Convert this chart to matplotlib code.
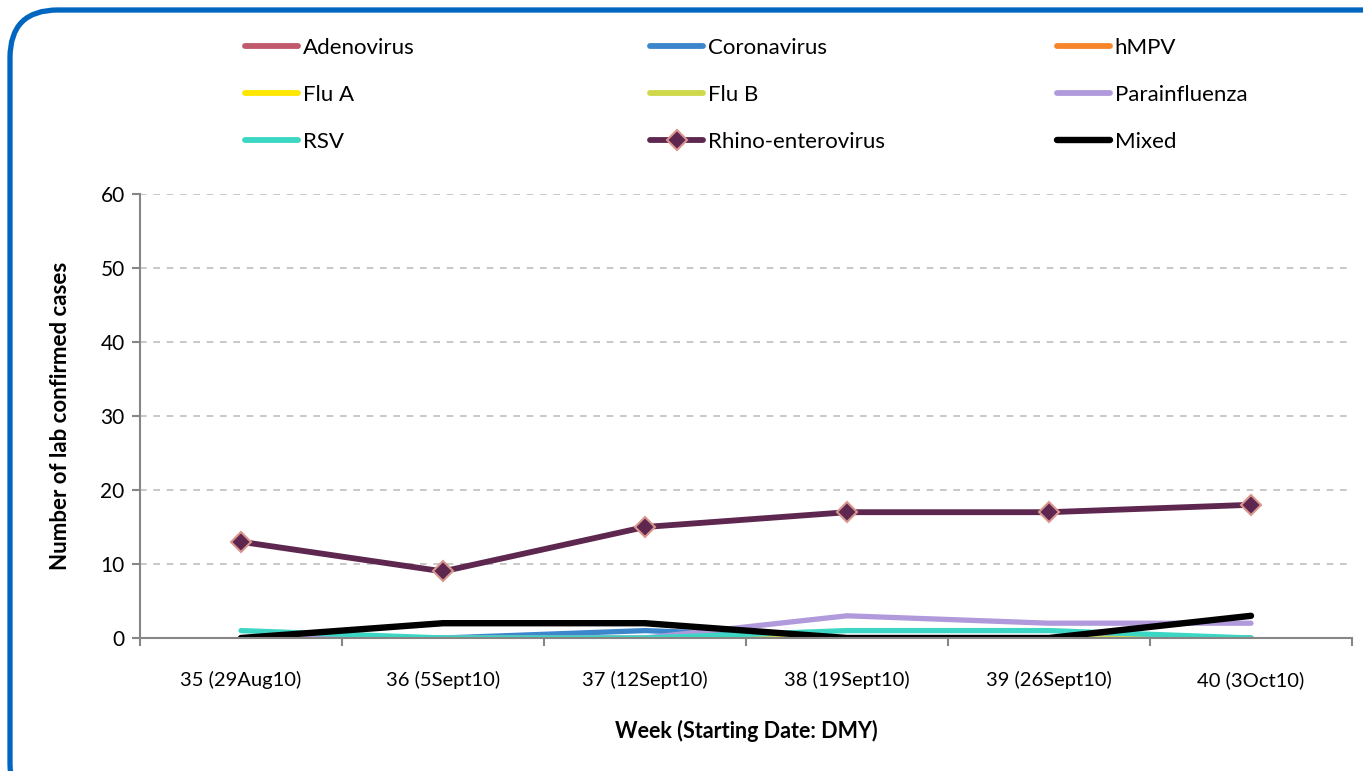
import numpy as np
import matplotlib
matplotlib.use("Agg")
import matplotlib.pyplot as plt
from matplotlib.patches import FancyBboxPatch
from matplotlib.lines import Line2D

plt.rcParams["font.family"] = ["Lato", "DejaVu Sans"]

weeks = ["35 (29Aug10)", "36 (5Sept10)", "37 (12Sept10)",
         "38 (19Sept10)", "39 (26Sept10)", "40 (3Oct10)"]

adenovirus = [0, 0, 0, 0, 0, 0]
coronavirus = [0, 0, 1, 0, 0, 0]
hmpv = [0, 0, 0, 0, 0, 0]
flu_a = [0, 0, 0, 0, 0, 0]
flu_b = [0, 0, 0, 0, 0, 0]
parainfluenza = [0, 0, 0, 3, 2, 2]
rsv = [1, 0, 0, 1, 1, 0]
rhino = [13, 9, 15, 17, 17, 18]
mixed = [0, 2, 2, 0, 0, 3]

series = [
    ("Adenovirus", adenovirus, "#C0596B"),
    ("Coronavirus", coronavirus, "#3C86CC"),
    ("hMPV", hmpv, "#F7862A"),
    ("Flu A", flu_a, "#FFE600"),
    ("Flu B", flu_b, "#CFD84A"),
    ("Parainfluenza", parainfluenza, "#B09ADB"),
    ("RSV", rsv, "#3CD6C4"),
    ("Rhino-enterovirus", rhino, "#5E2750"),
    ("Mixed", mixed, "#000000"),
]

W, H = 1363, 771
fig = plt.figure(figsize=(W / 100, H / 100), dpi=100)

# rounded blue frame, runs off right and bottom edges
frame = FancyBboxPatch((10 / W, -40 / H), (W + 40) / W, (H + 30) / H,
                       boxstyle="round,pad=0,rounding_size=0.035",
                       transform=fig.transFigure, fill=False,
                       edgecolor="#0066C0", linewidth=3.8,
                       mutation_aspect=W / H)
fig.patches.append(frame)

ax = fig.add_axes([140 / W, 1 - 638 / H, (1352 - 140) / W, (638 - 194) / H])

x = np.arange(len(weeks))
handles = {}
for name, vals, color in series:
    if name == "Rhino-enterovirus":
        (ln,) = ax.plot(x, vals, color=color, lw=4.2, marker="D", ms=10.5,
                        mfc=color, mec="#D9968D", mew=1.5, solid_capstyle="round")
    elif name == "Mixed":
        (ln,) = ax.plot(x, vals, color=color, lw=4.6, solid_capstyle="round")
    else:
        (ln,) = ax.plot(x, vals, color=color, lw=3.8, solid_capstyle="round")
    handles[name] = ln

ax.set_xlim(-0.5, len(weeks) - 0.5)
ax.set_ylim(0, 60)
ax.set_yticks(np.arange(0, 61, 10))
ax.set_xticks(x)
ax.set_xticklabels(weeks)
ax.set_xticks(np.arange(-0.5, len(weeks)), minor=True)
ax.tick_params(axis="x", which="major", length=0, pad=24, labelsize=14.5)
ax.tick_params(axis="x", which="minor", length=6, width=1.5, color="#868686", direction="out")
ax.tick_params(axis="y", length=6, width=1.5, color="#868686", labelsize=15, pad=5)
ax.yaxis.grid(True, linestyle=(0, (4, 4)), color="#BFBFBF", lw=1.2)
ax.set_axisbelow(True)
for side in ("top", "right"):
    ax.spines[side].set_visible(False)
for side in ("left", "bottom"):
    ax.spines[side].set_color("#868686")
    ax.spines[side].set_linewidth(1.5)

ax.set_ylabel("Number of lab confirmed cases", fontsize=16, fontweight="bold", labelpad=21)
ax.set_xlabel("Week (Starting Date: DMY)", fontsize=15.5, fontweight="bold", labelpad=22)

# legend in three columns, row-major as in the original
cols = [["Adenovirus", "Flu A", "RSV"],
        ["Coronavirus", "Flu B", "Rhino-enterovirus"],
        ["hMPV", "Parainfluenza", "Mixed"]]
col_x = [245, 650, 1057]
for names, cx in zip(cols, col_x):
    hs = []
    for n in names:
        h = handles[n]
        hs.append(Line2D([], [], color=h.get_color(), lw=4.6 if n == "Mixed" else 4.2,
                         marker=h.get_marker(), ms=10.5, mfc=h.get_markerfacecolor(),
                         mec=h.get_markeredgecolor(), mew=1.5, solid_capstyle="round"))
    fig.legend(hs, names, loc="upper left", bbox_to_anchor=(cx / W, 1 - 38 / H),
               frameon=False, fontsize=16, handlelength=2.4, handletextpad=0.2,
               labelspacing=1.22, borderaxespad=0, borderpad=0)

fig.savefig("out.png", dpi=100)
